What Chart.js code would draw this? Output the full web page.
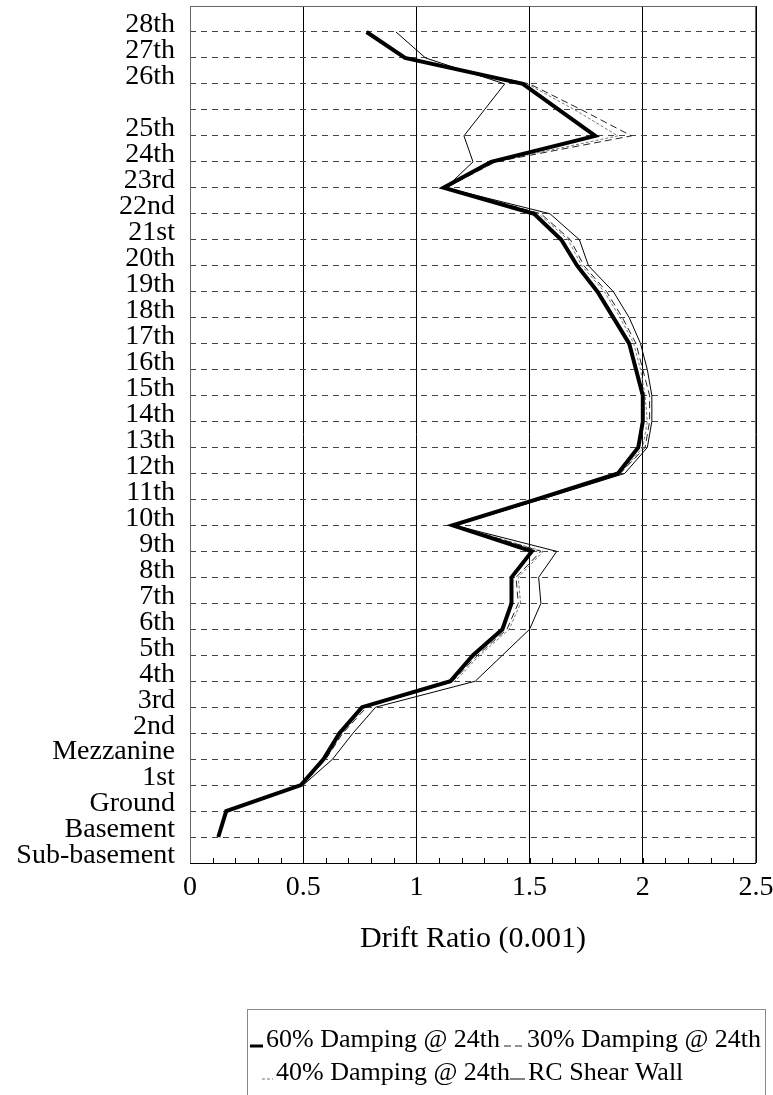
<!DOCTYPE html>
<html>
<head>
<meta charset="utf-8">
<title>Drift Ratio</title>
<script src="https://cdn.jsdelivr.net/npm/chart.js@4.4.0/dist/chart.umd.min.js"></script>
<style>
  html, body { margin: 0; padding: 0; background: #fff; }
  #wrap { width: 773px; height: 1095px; position: relative; }
</style>
</head>
<body>
<div id="wrap"><canvas id="driftChart" width="773" height="1095"></canvas></div>
<script>
// floor names, bottom (0) to top (33)
const floorLabels = ['Sub-basement', 'Basement', 'Ground', '1st', 'Mezzanine', '2nd', '3rd', '4th',
  '5th', '6th', '7th', '8th', '9th', '10th', '11th', '12th', '13th', '14th', '15th', '16th',
  '17th', '18th', '19th', '20th', '21st', '22nd', '23rd', '24th', '25th', '', '26th', '27th', '28th', ''];

// level of each data point on the floor axis
const levels = [1, 2, 3, 4, 5, 6, 7, 8, 9, 10, 11, 12, 13, 14, 15, 16,
  17, 18, 19, 20, 21, 22, 23, 24, 25, 26, 27, 28, 29, 30, 31, 32];

const damping60 = [0.125, 0.16, 0.49, 0.59, 0.66, 0.76, 1.15, 1.25, 1.38, 1.42, 1.42, 1.51, 1.16, 1.53, 1.89, 1.98,
  2.00, 2.00, 1.97, 1.94, 1.87, 1.80, 1.71, 1.64, 1.52, 1.12, 1.33, 1.79, 1.63, 1.47, 0.95, 0.78];
const damping30 = [0.125, 0.16, 0.495, 0.60, 0.675, 0.78, 1.16, 1.27, 1.40, 1.45, 1.44, 1.55, 1.17, 1.55, 1.90, 2.01,
  2.03, 2.03, 2.00, 1.97, 1.91, 1.84, 1.74, 1.68, 1.55, 1.13, 1.35, 1.95, 1.73, 1.50, 0.95, 0.78];
const damping40 = [0.125, 0.16, 0.495, 0.60, 0.67, 0.77, 1.17, 1.28, 1.41, 1.46, 1.45, 1.56, 1.17, 1.54, 1.90, 2.00,
  2.02, 2.01, 1.99, 1.96, 1.90, 1.83, 1.73, 1.67, 1.54, 1.13, 1.35, 1.89, 1.70, 1.49, 0.95, 0.78];
const rcShearWall = [0.125, 0.16, 0.50, 0.63, 0.72, 0.82, 1.26, 1.38, 1.50, 1.55, 1.54, 1.62, 1.17, 1.55, 1.92, 2.02,
  2.04, 2.04, 2.02, 1.99, 1.94, 1.87, 1.76, 1.72, 1.59, 1.13, 1.25, 1.21, 1.30, 1.39, 1.04, 0.91];

const xTicks = [0, 0.5, 1, 1.5, 2, 2.5];

const serif = "'Liberation Serif', 'Times New Roman', serif";

function toPoints(values) {
  let pts = [];
  for (let i = 0; i < values.length; i++) {
    pts.push({ x: values[i], y: levels[i] });
  }
  return pts;
}

// frame + small inside ticks on the x axis
const framePlugin = {
  id: 'frame',
  afterDatasetsDraw(chart) {
    const ctx = chart.ctx;
    const a = chart.chartArea;
    const xs = chart.scales.x;
    ctx.save();
    ctx.strokeStyle = '#666';
    ctx.lineWidth = 1;
    ctx.strokeRect(a.left + 0.5, a.top + 0.5, a.right - a.left - 1, a.bottom - a.top);
    ctx.strokeStyle = '#000';
    ctx.beginPath();
    ctx.moveTo(a.left, a.bottom + 0.5);
    ctx.lineTo(a.right, a.bottom + 0.5);
    for (let i = 1; i < 25; i++) {
      const px = Math.round(xs.getPixelForValue(i / 10)) + 0.5;
      ctx.moveTo(px, a.bottom);
      ctx.lineTo(px, a.bottom - 5);
    }
    ctx.stroke();
    ctx.restore();
  }
};

// boxed two-column legend under the axis title
const boxLegend = {
  id: 'boxLegend',
  afterDraw(chart) {
    const ctx = chart.ctx;
    const slots = [
      { x: 250, y: 1040, len: 13 },
      { x: 504, y: 1040, len: 20 },
      { x: 262, y: 1073, len: 11 },
      { x: 510, y: 1073, len: 15 }
    ];
    ctx.save();
    ctx.strokeStyle = '#888';
    ctx.lineWidth = 1;
    ctx.strokeRect(247.5, 1009.5, 518, 95);
    ctx.font = '26px ' + serif;
    ctx.textBaseline = 'middle';
    ctx.fillStyle = '#000';
    chart.data.datasets.forEach((ds, i) => {
      const s = slots[i];
      ctx.beginPath();
      ctx.strokeStyle = ds.borderColor;
      ctx.lineWidth = Math.min(ds.borderWidth, 3);
      ctx.setLineDash(ds.borderDash || []);
      ctx.moveTo(s.x, s.y + 6);
      ctx.lineTo(s.x + s.len, s.y + 6);
      ctx.stroke();
      ctx.setLineDash([]);
      ctx.fillText(ds.label, s.x + s.len + 3, s.y);
    });
    ctx.restore();
  }
};

const elCanvas = document.getElementById('driftChart').getContext('2d');

const driftChart = new Chart(elCanvas, {
  type: 'scatter',
  data: {
    datasets: [
      {
        label: '60% Damping @ 24th',
        data: toPoints(damping60),
        borderColor: '#000',
        borderWidth: 4,
        showLine: true,
        pointRadius: 0
      },
      {
        label: '30% Damping @ 24th',
        data: toPoints(damping30),
        borderColor: '#222',
        borderWidth: 1,
        borderDash: [7, 4],
        showLine: true,
        pointRadius: 0
      },
      {
        label: '40% Damping @ 24th',
        data: toPoints(damping40),
        borderColor: '#777',
        borderWidth: 1,
        borderDash: [3, 2],
        showLine: true,
        pointRadius: 0
      },
      {
        label: 'RC Shear Wall',
        data: toPoints(rcShearWall),
        borderColor: '#000',
        borderWidth: 1,
        showLine: true,
        pointRadius: 0
      }
    ]
  },
  options: {
    responsive: false,
    animation: false,
    devicePixelRatio: 1,
    layout: { padding: { top: 6, right: 17, bottom: 138, left: 0 } },
    plugins: {
      legend: { display: false },
      tooltip: { enabled: false }
    },
    scales: {
      x: {
        type: 'linear',
        min: 0,
        max: 2.5,
        afterBuildTicks: (scale) => { scale.ticks = xTicks.map(v => ({ value: v })); },
        afterFit: (scale) => { scale.height = 94; scale.paddingLeft = 0; scale.paddingRight = 0; },
        grid: { color: '#000', lineWidth: 1, drawTicks: false },
        border: { display: false },
        ticks: {
          color: '#000',
          padding: 8,
          maxRotation: 0,
          font: { family: serif, size: 28 },
          callback: (v) => String(v)
        },
        title: {
          display: true,
          text: 'Drift Ratio (0.001)',
          color: '#000',
          padding: { top: 4, bottom: 0 },
          font: { family: serif, size: 30 }
        }
      },
      y: {
        type: 'linear',
        min: 0,
        max: 33,
        afterBuildTicks: (scale) => { scale.ticks = floorLabels.map((n, i) => ({ value: i })); },
        afterFit: (scale) => { scale.width = 190; scale.paddingTop = 0; scale.paddingBottom = 0; },
        grid: {
          color: (c) => (c.tick && (c.tick.value === 0 || c.tick.value === 33)) ? 'rgba(0,0,0,0)' : '#444',
          lineWidth: 1,
          drawTicks: false
        },
        border: { display: false, dash: [6, 5] },
        ticks: {
          color: '#000',
          padding: 15,
          labelOffset: -7,
          autoSkip: false,
          font: { family: serif, size: 28 },
          callback: (v) => floorLabels[v]
        }
      }
    }
  },
  plugins: [framePlugin, boxLegend]
});
</script>
</body>
</html>
